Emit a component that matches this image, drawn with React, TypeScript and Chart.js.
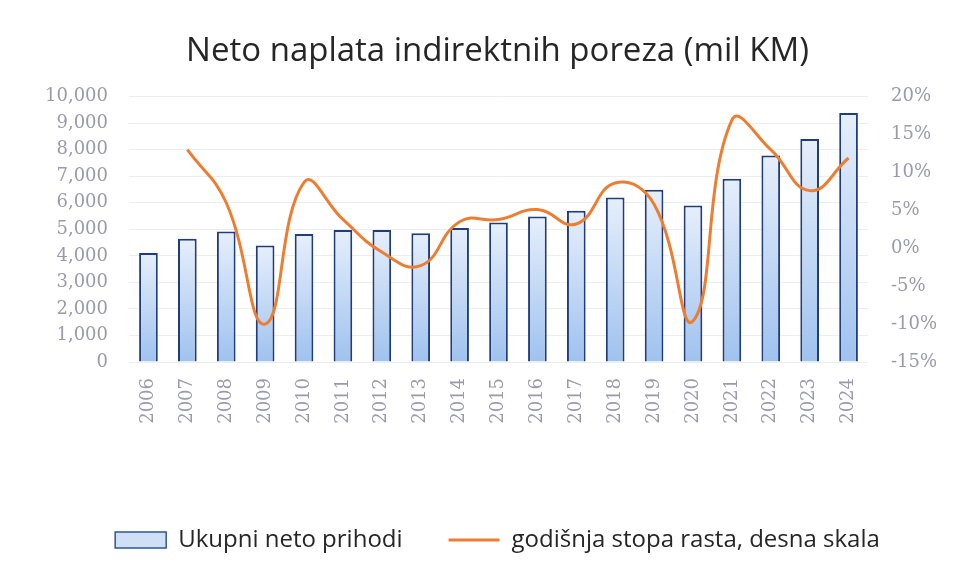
import React, { useEffect, useRef } from 'react';
import { Chart, registerables } from 'chart.js';

Chart.register(...registerables);

const years = ['2006', '2007', '2008', '2009', '2010', '2011', '2012', '2013', '2014', '2015', '2016', '2017', '2018', '2019', '2020', '2021', '2022', '2023', '2024'];
const netRevenue = [4110, 4640, 4915, 4390, 4820, 4970, 4970, 4855, 5050, 5260, 5485, 5700, 6200, 6490, 5900, 6905, 7785, 8400, 9385];
const growthRate = [null, 13.0, 6.0, -10.0, 8.7, 3.8, -0.5, -2.3, 3.5, 3.8, 5.1, 3.2, 8.6, 5.8, -9.6, 16.9, 13.0, 7.6, 11.9];

const titleText = 'Neto naplata indirektnih poreza (mil KM)';
const barLabel = 'Ukupni neto prihodi';
const lineLabel = 'godišnja stopa rasta, desna skala';

const leftMin = 0, leftMax = 10000, leftStep = 1000;
const rightMin = -15, rightMax = 20, rightStep = 5;

const W = 958, H = 577;

export default function App() {
  const ref = useRef<HTMLCanvasElement | null>(null);

  useEffect(() => {
    if (!ref.current) return;
    const tickFont = { family: 'DejaVu Serif', size: 18, weight: 'normal' as const };
    const tickColor = '#9a9aab';
    const chart = new Chart(ref.current, {
      type: 'bar',
      data: {
        labels: years,
        datasets: [
          {
            type: 'line',
            label: lineLabel,
            data: growthRate as any,
            yAxisID: 'y1',
            borderColor: '#ED7D31',
            borderWidth: 3,
            pointRadius: 0,
            tension: 0.45,
            fill: false,
            order: 0,
          } as any,
          {
            type: 'bar',
            label: barLabel,
            data: netRevenue,
            yAxisID: 'y',
            borderColor: '#203c7c',
            borderWidth: 2,
            categoryPercentage: 1,
            barPercentage: 0.48,
            order: 1,
            backgroundColor: (ctx: any) => {
              const chart = ctx.chart;
              const area = chart.chartArea;
              if (!area || ctx.type !== 'data' || !ctx.parsed) return '#c9def6';
              const top = chart.scales.y.getPixelForValue(ctx.parsed.y);
              const g = chart.ctx.createLinearGradient(0, top, 0, area.bottom);
              g.addColorStop(0, '#e6effb');
              g.addColorStop(1, '#9fc2ee');
              return g;
            },
          } as any,
        ],
      },
      options: {
        responsive: false,
        animation: false,
        devicePixelRatio: 1,
        layout: { padding: { top: 15, left: 37, right: 0, bottom: 15 } },
        plugins: {
          title: {
            display: true,
            text: titleText,
            color: '#262626',
            font: { family: 'Open Sans', size: 33, weight: 'normal' },
            padding: { top: 17, bottom: 25 },
          },
          legend: {
            display: true,
            position: 'bottom',
            labels: {
              usePointStyle: true,
              pointStyleWidth: 51,
              boxHeight: 16,
              padding: 46,
              color: '#262626',
              font: { family: 'Open Sans', size: 24 },
              generateLabels: () => [
                { text: barLabel, fillStyle: '#cfe0f6', strokeStyle: '#2f5597', lineWidth: 1.5, pointStyle: 'rect', datasetIndex: 1, fontColor: '#262626', hidden: false },
                { text: lineLabel, fillStyle: '#ED7D31', strokeStyle: '#ED7D31', lineWidth: 3, pointStyle: 'line', datasetIndex: 0, fontColor: '#262626', hidden: false },
              ] as any,
            },
          },
          tooltip: { enabled: false },
        },
        scales: {
          x: {
            grid: { display: false, drawTicks: false },
            border: { display: false },
            ticks: {
              autoSkip: false,
              minRotation: 90,
              maxRotation: 90,
              padding: 16,
              color: tickColor,
              font: tickFont,
            },
            afterFit: (s: any) => { s.height = 120; },
          },
          y: {
            position: 'left',
            min: leftMin,
            max: leftMax,
            grid: { color: '#ededed', lineWidth: 1, drawTicks: false },
            border: { display: false },
            ticks: {
              stepSize: leftStep,
              padding: 21,
              color: tickColor,
              font: tickFont,
              callback: (v: any) => Number(v).toLocaleString('en-US'),
            },
            afterFit: (s: any) => { s.width = 92; },
          },
          y1: {
            position: 'right',
            min: rightMin,
            max: rightMax,
            grid: { display: false, drawTicks: false },
            border: { display: false },
            ticks: {
              stepSize: rightStep,
              padding: 23,
              color: tickColor,
              font: tickFont,
              callback: (v: any) => `${v}%`,
            },
            afterFit: (s: any) => { s.width = 90; },
          },
        },
      } as any,
    });
    return () => chart.destroy();
  }, []);

  return (
    <div style={{ position: 'fixed', left: 0, top: 0, width: W, height: H, background: '#fff' }}>
      <canvas ref={ref} width={W} height={H} style={{ display: 'block', width: W, height: H }} />
    </div>
  );
}
